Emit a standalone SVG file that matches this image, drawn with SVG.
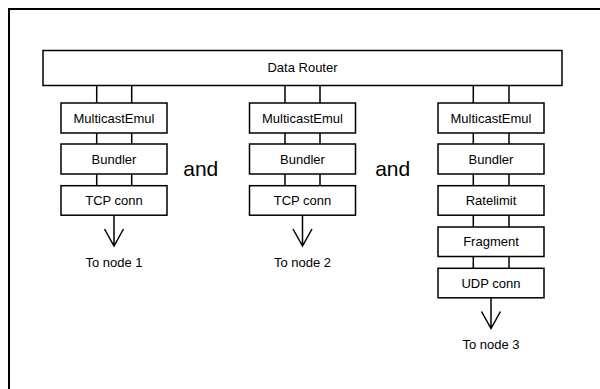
<svg xmlns="http://www.w3.org/2000/svg" width="600" height="389" viewBox="0 0 600 389">
<style>
.box{fill:#fff;stroke:#000;stroke-width:1.5}
.ln{fill:none;stroke:#000;stroke-width:1.5}
.t{font-family:"Liberation Sans",Arial,sans-serif;font-size:13px;fill:#000;text-anchor:middle}
.and{font-family:"Liberation Sans",Arial,sans-serif;font-size:21px;fill:#000;text-anchor:middle}
</style>
<rect x="0" y="0" width="600" height="389" fill="#fff"/>
<rect x="9" y="9" width="600" height="400" fill="none" stroke="#000" stroke-width="2"/>
<g id="connectors" class="ln">
<path d="M96.7 85.3V103M131.7 85.3V103M96.7 133V144M131.7 133V144M96.7 174V185.7M131.7 174V185.7"/>
<path d="M285 85.3V103M320 85.3V103M285 133V144M320 133V144M285 174V185.7M320 174V185.7"/>
<path d="M473.3 85.3V103M509 85.3V103M473.3 133V144M509 133V144M473.3 174V185.7M509 174V185.7M473.3 215V227M509 215V227M473.3 256.3V268.3M509 256.3V268.3"/>
<path d="M114 215V246M104.5 229L114 246L123.5 229"/>
<path d="M302.5 215V246M293 229L302.5 246L312 229"/>
<path d="M491 297.7V328.5M481.5 311.5L491 328.5L500.5 311.5"/>
</g>
<g id="router"><rect class="box" x="43" y="50.5" width="519" height="35"/><text class="t" x="302.5" y="72">Data Router</text></g>
<g id="c1-mcast"><rect class="box" x="61" y="103" width="106" height="30"/><text class="t" x="114" y="122.5">MulticastEmul</text></g>
<g id="c1-bundler"><rect class="box" x="61" y="144" width="106" height="30"/><text class="t" x="114" y="163.5">Bundler</text></g>
<g id="c1-tcp"><rect class="box" x="61" y="185.7" width="106" height="29.5"/><text class="t" x="114" y="205">TCP conn</text></g>
<g id="c2-mcast"><rect class="box" x="249.5" y="103" width="106" height="30"/><text class="t" x="302.5" y="122.5">MulticastEmul</text></g>
<g id="c2-bundler"><rect class="box" x="249.5" y="144" width="106" height="30"/><text class="t" x="302.5" y="163.5">Bundler</text></g>
<g id="c2-tcp"><rect class="box" x="249.5" y="185.7" width="106" height="29.5"/><text class="t" x="302.5" y="205">TCP conn</text></g>
<g id="c3-mcast"><rect class="box" x="438" y="103" width="106" height="30"/><text class="t" x="491" y="122.5">MulticastEmul</text></g>
<g id="c3-bundler"><rect class="box" x="438" y="144" width="106" height="30"/><text class="t" x="491" y="163.5">Bundler</text></g>
<g id="c3-ratelimit"><rect class="box" x="438" y="185.7" width="106" height="29.5"/><text class="t" x="491" y="205">Ratelimit</text></g>
<g id="c3-fragment"><rect class="box" x="438" y="227" width="106" height="29.5"/><text class="t" x="491" y="246.3">Fragment</text></g>
<g id="c3-udp"><rect class="box" x="438" y="268.3" width="106" height="29.5"/><text class="t" x="491" y="287.6">UDP conn</text></g>
<g id="labels">
<text class="t" x="114" y="267">To node 1</text>
<text class="t" x="302.5" y="267">To node 2</text>
<text class="t" x="491" y="349">To node 3</text>
<text class="and" x="200.8" y="175.7">and</text>
<text class="and" x="392.7" y="175.7">and</text>
</g>
</svg>
